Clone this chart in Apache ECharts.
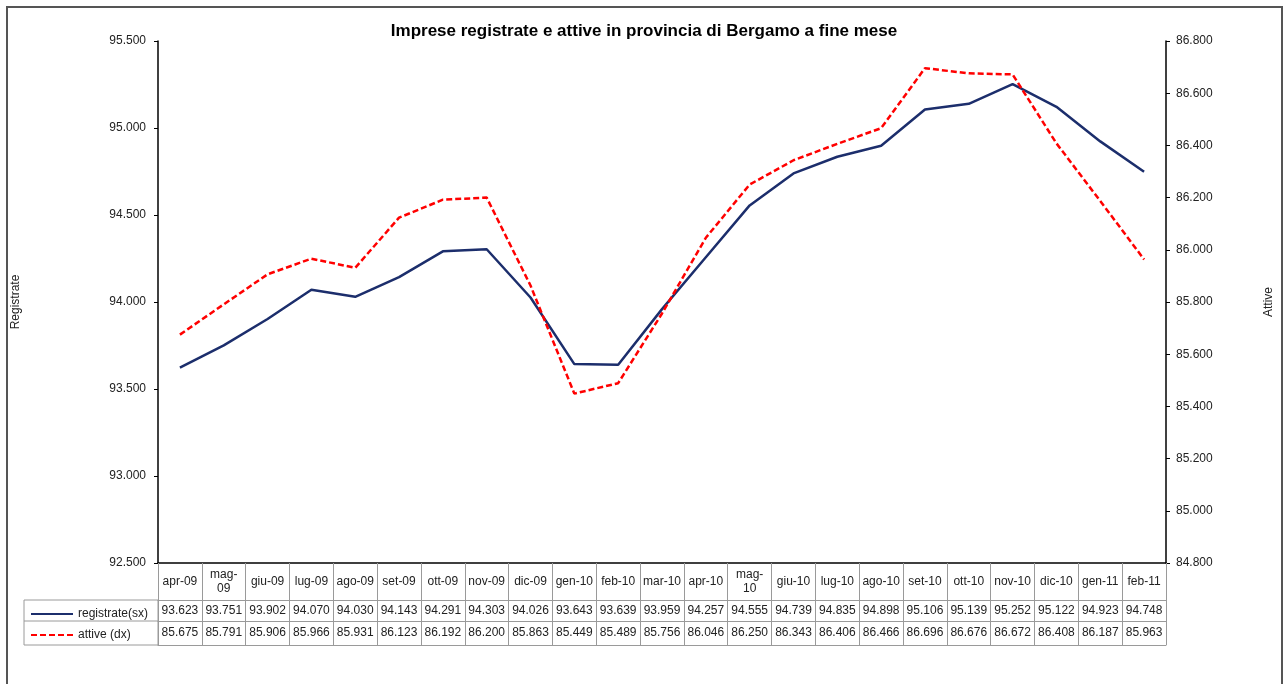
<!DOCTYPE html>
<html>
<head>
<meta charset="utf-8">
<title>Imprese Bergamo</title>
<script src="https://cdn.jsdelivr.net/npm/echarts@6/dist/echarts.min.js"></script>
<style>
  html, body { margin: 0; padding: 0; background: #fff; }
  #chart { width: 1288px; height: 684px; }
</style>
</head>
<body>
<div id="chart"></div>
<script>
// mesi (asse categorie)
const months = ['apr-09', 'mag-09', 'giu-09', 'lug-09', 'ago-09', 'set-09', 'ott-09', 'nov-09',
  'dic-09', 'gen-10', 'feb-10', 'mar-10', 'apr-10', 'mag-10', 'giu-10', 'lug-10', 'ago-10',
  'set-10', 'ott-10', 'nov-10', 'dic-10', 'gen-11', 'feb-11']
// imprese registrate (asse sx)
const registrate = [93623, 93751, 93902, 94070, 94030, 94143, 94291, 94303, 94026, 93643, 93639,
  93959, 94257, 94555, 94739, 94835, 94898, 95106, 95139, 95252, 95122, 94923, 94748]
// imprese attive (asse dx)
const attive = [85675, 85791, 85906, 85966, 85931, 86123, 86192, 86200, 85863, 85449, 85489,
  85756, 86046, 86250, 86343, 86406, 86466, 86696, 86676, 86672, 86408, 86187, 85963]

const FONT = 'Liberation Sans, Arial, sans-serif'
const TXT = '#222'
const GRID_LINE = '#9a9a9a'

// 95500 -> "95.500"
function fmt(n) {
  return String(n).replace(/\B(?=(\d{3})+(?!\d))/g, '.')
}

const chart = echarts.init(document.getElementById('chart'))

const option = {
  animation: false,
  textStyle: { fontFamily: FONT },
  title: {
    text: 'Imprese registrate e attive in provincia di Bergamo a fine mese',
    left: 'center',
    top: 18,
    textStyle: { fontFamily: FONT, fontSize: 17, fontWeight: 'bold', color: '#000' }
  },
  legend: {
    orient: 'vertical',
    left: 25,
    top: 603,
    itemWidth: 42,
    itemHeight: 14,
    itemGap: 9,
    itemStyle: { opacity: 0 },
    textStyle: { fontFamily: FONT, fontSize: 12, color: TXT },
    data: ['registrate(sx)', 'attive (dx)']
  },
  grid: {
    left: 158,
    right: 122,
    top: 41,
    bottom: 121,
    outerBoundsMode: 'none'
  },
  xAxis: [
    {
      // intestazione tabella + linee verticali
      type: 'category',
      data: months,
      position: 'bottom',
      axisLine: { lineStyle: { color: '#000', width: 1.5 } },
      axisTick: {
        show: true,
        interval: 0,
        length: 82,
        lineStyle: { color: GRID_LINE, width: 1 }
      },
      axisLabel: {
        interval: 0,
        margin: 19,
        verticalAlign: 'middle',
        lineHeight: 14,
        fontSize: 12,
        color: TXT,
        formatter: v => v.startsWith('mag') ? v.replace('-', '-\n') : v
      }
    },
    {
      // riga registrate
      type: 'category',
      data: months,
      position: 'bottom',
      offset: 37,
      axisLine: { lineStyle: { color: GRID_LINE, width: 1 } },
      axisTick: { show: false },
      axisLabel: {
        interval: 0,
        margin: 11,
        verticalAlign: 'middle',
        fontSize: 12,
        color: TXT,
        formatter: (v, i) => fmt(registrate[i])
      }
    },
    {
      // riga attive
      type: 'category',
      data: months,
      position: 'bottom',
      offset: 58,
      axisLine: { lineStyle: { color: GRID_LINE, width: 1 } },
      axisTick: { show: false },
      axisLabel: {
        interval: 0,
        margin: 12,
        verticalAlign: 'middle',
        fontSize: 12,
        color: TXT,
        formatter: (v, i) => fmt(attive[i])
      }
    },
    {
      // chiusura tabella
      type: 'category',
      data: months,
      position: 'bottom',
      offset: 82,
      axisLine: { lineStyle: { color: GRID_LINE, width: 1 } },
      axisTick: { show: false },
      axisLabel: { show: false }
    }
  ],
  yAxis: [
    {
      type: 'value',
      position: 'left',
      min: 92500,
      max: 95500,
      interval: 500,
      name: 'Registrate',
      nameLocation: 'middle',
      nameGap: 136,
      nameRotate: 90,
      nameTextStyle: { fontFamily: FONT, fontSize: 12, color: TXT },
      axisLine: { show: true, lineStyle: { color: '#000', width: 1.5 } },
      axisTick: { show: true, length: 4, lineStyle: { color: '#000' } },
      splitLine: { show: false },
      axisLabel: { margin: 12, fontSize: 12, color: TXT, formatter: v => fmt(v) }
    },
    {
      type: 'value',
      position: 'right',
      min: 84800,
      max: 86800,
      interval: 200,
      name: 'Attive',
      nameLocation: 'middle',
      nameGap: 97,
      nameRotate: 90,
      nameTextStyle: { fontFamily: FONT, fontSize: 12, color: TXT },
      axisLine: { show: true, lineStyle: { color: '#000', width: 1.5 } },
      axisTick: { show: true, length: 4, lineStyle: { color: '#000' } },
      splitLine: { show: false },
      axisLabel: { margin: 10, fontSize: 12, color: TXT, formatter: v => fmt(v) }
    }
  ],
  series: [
    {
      name: 'registrate(sx)',
      type: 'line',
      xAxisIndex: 0,
      yAxisIndex: 0,
      data: registrate,
      symbol: 'none',
      lineStyle: { color: '#1c2e6c', width: 2.5 },
      itemStyle: { color: '#1c2e6c' }
    },
    {
      name: 'attive (dx)',
      type: 'line',
      xAxisIndex: 0,
      yAxisIndex: 1,
      data: attive,
      symbol: 'none',
      lineStyle: { color: '#ff0000', width: 2.5, type: [6, 3] },
      itemStyle: { color: '#ff0000' }
    }
  ],
  graphic: [
    {
      // cornice esterna
      type: 'rect',
      shape: { x: 7, y: 7, width: 1275, height: 700 },
      style: { fill: 'none', stroke: '#555', lineWidth: 2 },
      silent: true
    },
    {
      // colonna legenda della tabella
      type: 'rect',
      shape: { x: 24, y: 600, width: 134, height: 45 },
      style: { fill: 'none', stroke: GRID_LINE, lineWidth: 1 },
      silent: true
    },
    {
      type: 'line',
      shape: { x1: 24, y1: 621, x2: 158, y2: 621 },
      style: { stroke: GRID_LINE, lineWidth: 1 },
      silent: true
    }
  ]
}

chart.setOption(option)
window.onresize = () => chart.resize()
</script>
</body>
</html>
